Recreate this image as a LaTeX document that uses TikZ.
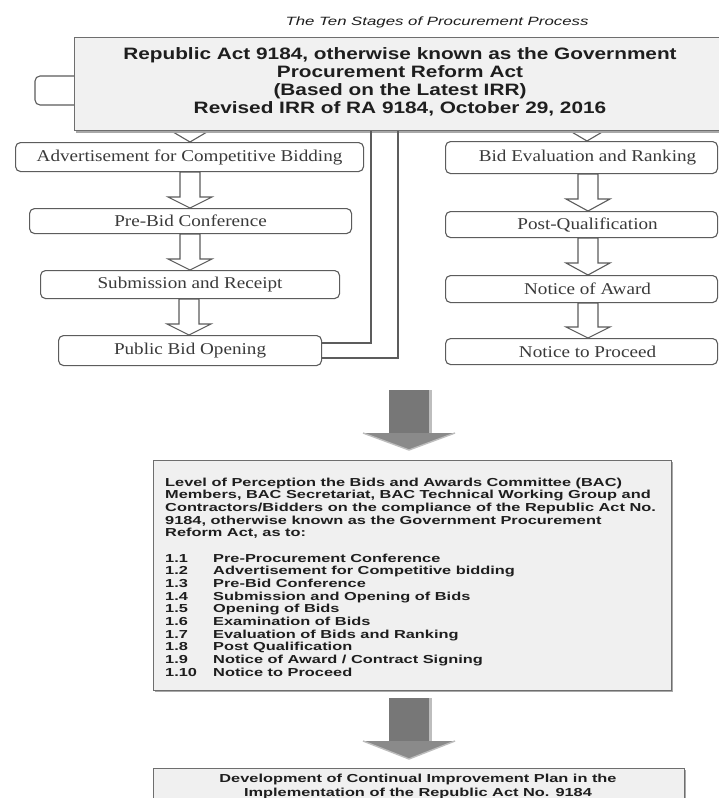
\documentclass[tikz,border=0pt]{standalone}
\usepackage{fontspec}
\usetikzlibrary{calc}
\setmainfont{Liberation Serif}
\newfontfamily\serw[FakeStretch=1.16]{Liberation Serif}
\newfontfamily\hdr[FakeStretch=1.26]{Liberation Sans}
\newfontfamily\bod[FakeStretch=1.41]{Liberation Sans}
\newfontfamily\ttl[FakeStretch=1.4]{Liberation Sans}
\definecolor{lineg}{HTML}{5C5C5C}
\definecolor{sertx}{HTML}{3A3A3A}
\definecolor{sanstx}{HTML}{1E1E1E}
\definecolor{topf}{HTML}{F1F1F1}
\definecolor{boxf}{HTML}{F0F0F0}
\definecolor{boxg}{HTML}{6E6E6E}
\definecolor{shad}{HTML}{A8A8A8}
\definecolor{shaftg}{HTML}{777777}
\definecolor{headg}{HTML}{8A8A8A}
\definecolor{rimg}{HTML}{BDBDBD}
\newcommand\hollowdown[4]{%
  \draw[harrow] let \p1=(#1.south), \p2=(#2.north) in
    ({(#3-10)*1pt},{\y1}) -- ({(#3+10)*1pt},{\y1}) -- ({(#3+10)*1pt},{\y2+#4pt})
    -- ({(#3+22)*1pt},{\y2+#4pt}) -- ({#3*1pt},{\y2}) -- ({(#3-22)*1pt},{\y2+#4pt})
    -- ({(#3-10)*1pt},{\y2+#4pt}) -- cycle;}
\begin{document}
\begin{tikzpicture}[x=1pt,y=-1pt,
  lbox/.style={draw=lineg, line width=1.1pt, rounded corners=5pt, fill=white, inner sep=0pt,
    anchor=north west, font={\serw\fontsize{16.5pt}{18pt}\selectfont}, text=sertx},
  harrow/.style={draw=lineg, line width=1.1pt, fill=white, line join=miter},
  conn/.style={draw=lineg, line width=1.1pt},
  hdrtxt/.style={anchor=base, inner sep=0pt, text=sanstx, font={\hdr\bfseries\fontsize{16.5pt}{18pt}\selectfont}},
  bodtxt/.style={anchor=base west, inner sep=0pt, text=sanstx, font={\bod\bfseries\fontsize{11.6pt}{12.7pt}\selectfont}},
  bodc/.style={bodtxt, anchor=base},
  bigbox/.style={draw=boxg, fill=boxf, line width=1.2pt, inner sep=0pt, anchor=north west}
]
\useasboundingbox (0,0) rectangle (719,798);
\fill[white] (0,0) rectangle (719,798);
\clip (0,0) rectangle (719,798);

% title
\node[anchor=base, inner sep=0pt, text=sanstx, font={\ttl\itshape\fontsize{12pt}{14pt}\selectfont}] (title) at (437,25.5) {The Ten Stages of Procurement Process};

% pieces hidden behind the top box
\draw[conn, rounded corners=5pt] (90,76) -- (35,76) -- (35,105) -- (90,105);
\coordinate (ch1a) at (190,100);
\coordinate (ch2a) at (587,100);
\draw[harrow] (180,100) -- (200,100) -- (200,129) -- (212,129) -- (190,142) -- (168,129) -- (180,129) -- cycle;
\draw[harrow] (577,100) -- (597,100) -- (597,128) -- (609,128) -- (587,141) -- (565,128) -- (577,128) -- cycle;

% top box
\fill[shad] (76,39.5) rectangle (728,132.5);
\node[draw=boxg, fill=topf, line width=1.3pt, minimum width=652pt, minimum height=93pt, anchor=north west, inner sep=0pt] (ra) at (74,37) {};
\node[hdrtxt] (ra1) at (400,59) {Republic Act 9184, otherwise known as the Government};
\node[hdrtxt] (ra2) at (400,77.3) {Procurement Reform Act};
\node[hdrtxt] (ra3) at (400,95.6) {(Based on the Latest IRR)};
\node[hdrtxt] (ra4) at (400,113.9) {Revised IRR of RA 9184, October 29, 2016};

% left column
\node[lbox, minimum width=348pt, minimum height=29pt] (adv) at (15,142) {Advertisement for Competitive Bidding};
\node[lbox, minimum width=322pt, minimum height=25pt] (pbc) at (29,208) {Pre-Bid Conference};
\node[lbox, minimum width=299pt, minimum height=28pt] (sub) at (40,270) {Submission and Receipt};
\node[lbox, minimum width=263pt, minimum height=30pt] (pbo) at (58,335) {Public Bid Opening};
\hollowdown{adv}{pbc}{190}{11}
\hollowdown{pbc}{sub}{190}{11}
\hollowdown{sub}{pbo}{189}{11}

% right column
\node[lbox, minimum width=272pt, minimum height=32pt] (bev) at (445,141) {\hspace*{12pt}Bid Evaluation and Ranking};
\node[lbox, minimum width=272pt, minimum height=26pt] (pq) at (445,211) {\hspace*{12pt}Post-Qualification};
\node[lbox, minimum width=272pt, minimum height=27pt] (noa) at (445,275) {\hspace*{12pt}Notice of Award};
\node[lbox, minimum width=272pt, minimum height=26pt] (ntp) at (445,338) {\hspace*{12pt}Notice to Proceed};
\hollowdown{bev}{pq}{588}{12}
\hollowdown{pq}{noa}{588}{12}
\hollowdown{noa}{ntp}{588}{11}

% bent hollow connector from Public Bid Opening up to the top box
\coordinate (bi) at (371,343);
\coordinate (bo) at (398,358);
\draw[conn] (pbo.east |- bi) -- (bi) -- (bi |- ra.south);
\draw[conn] (pbo.east |- bo) -- (bo) -- (bo |- ra.south);

% big arrow 1
\fill[shaftg] (389,390) rectangle (429,435);
\fill[rimg] (429,390) rectangle (432,435);
\fill[headg] (363,433) -- (455,433) -- (409,450) -- cycle;
\draw[rimg, line width=1.4pt, line join=round] (363,433) -- (409,450) -- (455,433);

% box 2
\fill[shad] (155,462) rectangle (673,692);
\node[bigbox, minimum width=518pt, minimum height=230pt] (lp) at (153,460) {};
\node[bodtxt] (p1) at (165,486) {Level of Perception the Bids and Awards Committee (BAC)};
\node[bodtxt] (p2) at (165,498.7) {Members, BAC Secretariat, BAC Technical Working Group and};
\node[bodtxt] (p3) at (165,511.4) {Contractors/Bidders on the compliance of the Republic Act No.};
\node[bodtxt] (p4) at (165,524.1) {9184, otherwise known as the Government Procurement};
\node[bodtxt] (p5) at (165,536.8) {Reform Act, as to:};
\foreach \n/\t [count=\i from 0] in {1.1/{Pre-Procurement Conference}, 1.2/{Advertisement for Competitive bidding}, 1.3/{Pre-Bid Conference}, 1.4/{Submission and Opening of Bids}, 1.5/{Opening of Bids}, 1.6/{Examination of Bids}, 1.7/{Evaluation of Bids and Ranking}, 1.8/{Post Qualification}, 1.9/{Notice of Award / Contract Signing}, 1.10/{Notice to Proceed}} {
  \node[bodtxt] (n\i) at (165,{562+12.7*\i}) {\n};
  \node[bodtxt] (t\i) at (213,{562+12.7*\i}) {\t};
}

% big arrow 2
\fill[shaftg] (389,698) rectangle (429,743);
\fill[rimg] (429,698) rectangle (432,743);
\fill[headg] (363,741) -- (455,741) -- (409,759) -- cycle;
\draw[rimg, line width=1.4pt, line join=round] (363,741) -- (409,759) -- (455,741);

% box 3
\fill[shad] (155,770) rectangle (686,820);
\node[bigbox, minimum width=531pt, minimum height=50pt] (dp) at (153,768) {};
\node[bodc] (d1) at (418,782) {Development of Continual Improvement Plan in the};
\node[bodc] (d2) at (418,796) {Implementation of the Republic Act No. 9184};
\end{tikzpicture}
\end{document}
